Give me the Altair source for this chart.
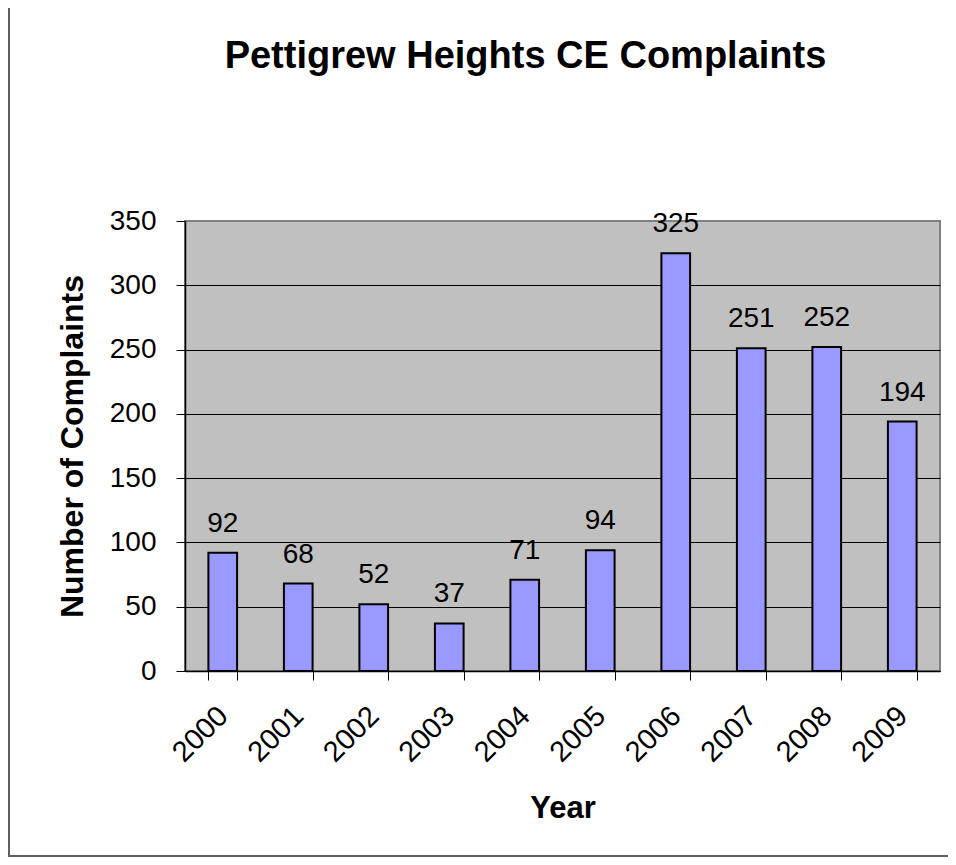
import altair as alt
import pandas as pd

years = ["2000", "2001", "2002", "2003", "2004", "2005", "2006", "2007", "2008", "2009"]
complaints = [92, 68, 52, 37, 71, 94, 325, 251, 252, 194]
y_ticks = [0, 50, 100, 150, 200, 250, 300, 350]

df = pd.DataFrame({"Year": years, "Complaints": complaints})

FONT = "Liberation Sans"
W, H = 755, 450

x_enc = alt.X(
    "Year:N",
    sort=years,
    scale=alt.Scale(paddingInner=0.62, paddingOuter=0.31),
    axis=alt.Axis(
        title="Year",
        labelAngle=-45,
        labelAlign="right",
        labelBaseline="middle",
        labelFont=FONT,
        labelFontSize=29,
        labelColor="black",
        labelPadding=31,
        labelOverlap=False,
        tickBand="extent",
        tickSize=9,
        tickColor="black",
        tickWidth=1,
        domainColor="black",
        domainWidth=1.5,
        grid=False,
        titleFont=FONT,
        titleFontSize=31,
        titleFontWeight="bold",
        titleColor="black",
        titleY=146,
        titleBaseline="alphabetic",
    ),
)

y_enc = alt.Y(
    "Complaints:Q",
    scale=alt.Scale(domain=[0, 350], nice=False, zero=True),
    axis=alt.Axis(
        values=y_ticks,
        title="Number of Complaints",
        labelFont=FONT,
        labelFontSize=28,
        labelColor="black",
        labelPadding=20,
        labelFlush=False,
        labelOverlap=False,
        tickSize=9,
        tickColor="black",
        tickWidth=1,
        domainColor="black",
        domainWidth=1.5,
        grid=True,
        gridColor=alt.condition("datum.value === 350", alt.value("#808080"), alt.value("black")),
        gridWidth=1,
        titleFont=FONT,
        titleFontSize=32,
        titleFontWeight="bold",
        titleColor="black",
        titleX=-103,
        titleY=H / 2,
        titleAngle=270,
        titleAlign="center",
        titleBaseline="alphabetic",
    ),
)

base = alt.Chart(df)

bars = base.mark_bar(fill="#9999FF", stroke="black", strokeWidth=2).encode(
    x=x_enc, y=y_enc
)

labels = base.mark_text(
    baseline="alphabetic", align="center", dy=-21, fontSize=28, font=FONT, color="black"
).encode(
    x=alt.X("Year:N", sort=years),
    y=alt.Y("Complaints:Q"),
    text=alt.Text("Complaints:Q"),
)

frame = (
    alt.Chart(pd.DataFrame({"f": [0]}))
    .mark_rect(fillOpacity=0, stroke="#606060", strokeWidth=2)
    .encode(
        x=alt.value(-176),
        x2=alt.value(790),
        y=alt.value(-214),
        y2=alt.value(635),
    )
)

chart = (
    alt.layer(frame, bars, labels)
    .properties(
        width=W,
        height=H,
        autosize=alt.AutoSizeParams(type="none"),
        padding={"left": 177, "top": 213, "right": 8, "bottom": 186},
        view=alt.ViewBackground(fill="#C0C0C0", stroke="#808080", strokeWidth=2),
        title=alt.TitleParams(
            "Pettigrew Heights CE Complaints",
            font=FONT,
            fontSize=38,
            fontWeight="bold",
            color="black",
            anchor="middle",
            frame="group",
            baseline="alphabetic",
            offset=0,
            dx=-37,
            dy=100,
        ),
    )
    .configure(background="white")
)

chart.save("out.html", embed_options={"renderer": "svg", "actions": False})
